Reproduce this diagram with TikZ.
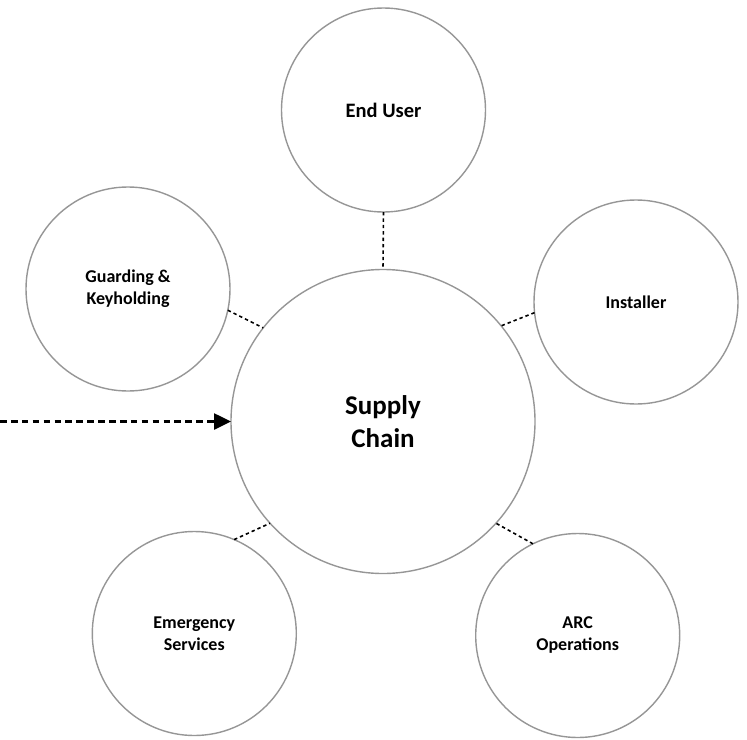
\documentclass[tikz,border=0pt]{standalone}
\usepackage{fontspec}
\setmainfont{Carlito}
\usetikzlibrary{arrows.meta}
\definecolor{ringgray}{RGB}{150,150,150}
\tikzset{
  ring/.style={circle, draw=ringgray, line width=1.4pt, inner sep=0pt, outer sep=0pt,
    align=center, font=\bfseries\fontsize{18}{22}\selectfont},
  bigring/.style={ring, minimum size=304pt, font=\bfseries\fontsize{27}{33}\selectfont},
  smallring/.style={ring, minimum size=204pt},
  link/.style={draw=black, line width=1.6pt, dash pattern=on 3.4pt off 3pt},
  feed/.style={draw=black, line width=2.6pt, dash pattern=on 6.6pt off 4.3pt,
    -{Triangle[length=17pt,width=16pt]}}
}
\begin{document}
\begin{tikzpicture}[x=1pt,y=-1pt]
\useasboundingbox (0,0) rectangle (747,739);
\node[bigring] (sc) at (383,421.5) {Supply\\Chain};
\node[smallring, font=\bfseries\fontsize{20.5}{25}\selectfont] (eu) at (383.5,110) {End User};
\node[smallring] (gk) at (128,289) {Guarding \&\\Keyholding};
\node[smallring] (in) at (636,302) {Installer};
\node[smallring] (es) at (194.3,633.5) {Emergency\\Services};
\node[smallring] (arc) at (577.7,635.5) {ARC\\Operations};
\coordinate (src) at (0,421.5);
\draw[link] (eu.south) -- (sc.north);
\draw[link] (gk.-12) -- (sc.142);
\draw[link] (in.186) -- (sc.39);
\draw[link] (es.67) -- (sc.222);
\draw[link] (arc.116) -- (sc.-42);
\draw[feed] (src) -- (sc.west);
\end{tikzpicture}
\end{document}
